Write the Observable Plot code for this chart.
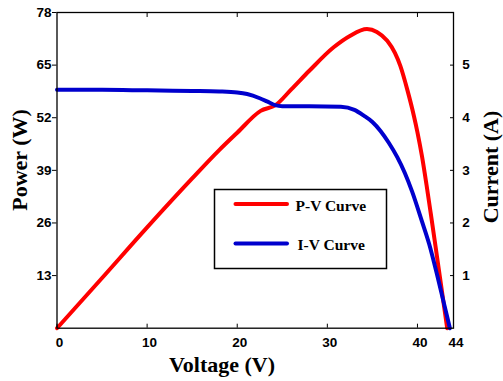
<!DOCTYPE html>
<html>
<head>
<meta charset="utf-8">
<script src="https://cdn.jsdelivr.net/npm/d3@7"></script>
<script src="https://cdn.jsdelivr.net/npm/@observablehq/plot@0.6"></script>
<style>
  html, body { margin: 0; padding: 0; background: #fff; }
  #chart { position: relative; width: 503px; height: 381px; }
</style>
</head>
<body>
<div id="chart"></div>
<script>
// ---- data ----
const voltagePV = [0, 5, 10, 15, 18, 20, 22.6, 24.25, 26, 28, 30.7, 32.5, 34.4, 35.5, 36.65, 37.5, 38.1, 38.9, 39.6, 40.0, 40.5, 41.0, 41.5, 42.0, 42.5, 43.3];
const powerPV   = [0, 12.4, 24.9, 37.0, 44.0, 48.3, 53.7, 55.1, 59.0, 63.6, 69.4, 72.2, 73.9, 73.2, 71.0, 68.0, 64.8, 58.7, 52.5, 48.4, 42.5, 35.5, 28.0, 20.3, 12.5, 0];
const voltageIV = [0, 5, 10, 15, 18, 20, 21.1, 22.5, 23.3, 24.2, 25, 28, 31.5, 33, 34.05, 35.0, 35.9, 36.8, 37.76, 38.6, 39.4, 40.5, 41.3, 42.2, 42.9, 43.6];
const currentIV = [4.53, 4.53, 4.52, 4.51, 4.50, 4.48, 4.45, 4.37, 4.31, 4.24, 4.22, 4.22, 4.21, 4.15, 4.04, 3.92, 3.75, 3.53, 3.25, 2.95, 2.60, 2.03, 1.60, 1.0, 0.5, 0];
const xTicks = [0, 10, 20, 30, 40, 44];
const xTopTicks = [10, 20, 30, 40];
const powerTicks = [13, 26, 39, 52, 65, 78];
const currentTicks = [1, 2, 3, 4, 5];
const seriesNames = ["P-V Curve", "I-V Curve"];
const xTitle = "Voltage (V)";
const yLeftTitle = "Power (W)";
const yRightTitle = "Current (A)";
const powerMax = 78, currentMax = 6; // right axis spans 0–6 A over the same height
const ratio = powerMax / currentMax;

const pv = voltagePV.map((v, i) => ({v, p: powerPV[i]}));
const iv = voltageIV.map((v, i) => ({v, c: currentIV[i]}));

const RED = "#ff0000", BLUE = "#0000cd";

const plot = Plot.plot({
  width: 503,
  height: 381,
  marginLeft: 56.5,
  marginRight: 50,
  marginTop: 12,
  marginBottom: 53.3,
  style: {fontFamily: "'Liberation Sans', Arial, sans-serif", fontSize: "13.5px", fontWeight: "bold", color: "#000", background: "#fff"},
  x: {domain: [0, 44], axis: null},
  y: {domain: [0, powerMax], axis: null},
  marks: [
    Plot.line(pv, {x: "v", y: "p", stroke: RED, strokeWidth: 4, curve: "monotone-x"}),
    Plot.line(iv, {x: "v", y: d => d.c * ratio, stroke: BLUE, strokeWidth: 4, curve: "monotone-x"}),
    Plot.frame({stroke: "#000", strokeWidth: 1.3}),
    // left axis: outward ticks
    Plot.axisY({anchor: "left", ticks: powerTicks, tickSize: 4.5, tickPadding: 1, label: null, stroke: "#000", fill: "#000"}),
    // right axis: inward ticks, labels outside
    Plot.axisY({anchor: "right", ticks: currentTicks.map(c => c * ratio), tickSize: 4, dx: -4, tickPadding: 8.7,
      tickFormat: d => String(Math.round(d / ratio)), label: null, stroke: "#000", fill: "#000"}),
    // bottom axis: inward ticks
    Plot.axisX({anchor: "bottom", ticks: xTicks, tickSize: 4, dy: -4, tickFormat: () => "", label: null, stroke: "#000"}),
    Plot.axisX({anchor: "bottom", ticks: xTicks, tickSize: 0, tickPadding: 9, dx: 2.5, label: null, fill: "#000"}),
    // top axis: inward ticks only
    Plot.axisX({anchor: "top", ticks: xTopTicks, tickSize: 4, dy: 4, tickFormat: () => "", label: null, stroke: "#000"})
  ]
});

document.getElementById("chart").appendChild(plot);

// ---- titles and legend drawn into the same SVG ----
const svg = d3.select(plot);
const serif = "'Liberation Serif', 'Times New Roman', serif";

svg.append("text")
  .attr("x", 222).attr("y", 371.5)
  .attr("text-anchor", "middle")
  .style("font-family", serif).style("font-size", "22px").style("font-weight", "bold")
  .attr("fill", "#000")
  .text(xTitle);

svg.append("text")
  .attr("transform", "translate(26.7,160) rotate(-90)")
  .attr("text-anchor", "middle")
  .style("font-family", serif).style("font-size", "22px").style("font-weight", "bold")
  .attr("fill", "#000")
  .text(yLeftTitle);

svg.append("text")
  .attr("transform", "translate(498,167) rotate(-90)")
  .attr("text-anchor", "middle")
  .style("font-family", serif).style("font-size", "22px").style("font-weight", "bold")
  .attr("fill", "#000")
  .text(yRightTitle);

const legend = svg.append("g");
legend.append("rect")
  .attr("x", 214.5).attr("y", 189.5).attr("width", 172).attr("height", 79)
  .attr("fill", "#fff").attr("stroke", "#000").attr("stroke-width", 1.5);
const legendColors = [RED, BLUE];
const legendLineY = [204, 243.5];
const legendTextY = [210.7, 250];
const legendTextX = [295.5, 297.5];
seriesNames.forEach((name, i) => {
  legend.append("line")
    .attr("x1", 235.5).attr("x2", 287).attr("y1", legendLineY[i]).attr("y2", legendLineY[i])
    .attr("stroke", legendColors[i]).attr("stroke-width", 4).attr("stroke-linecap", "round");
  legend.append("text")
    .attr("x", legendTextX[i]).attr("y", legendTextY[i])
    .attr("text-anchor", "start")
    .style("font-family", serif).style("font-size", "15.5px").style("font-weight", "bold")
    .attr("fill", "#000")
    .text(name);
});
</script>
</body>
</html>
